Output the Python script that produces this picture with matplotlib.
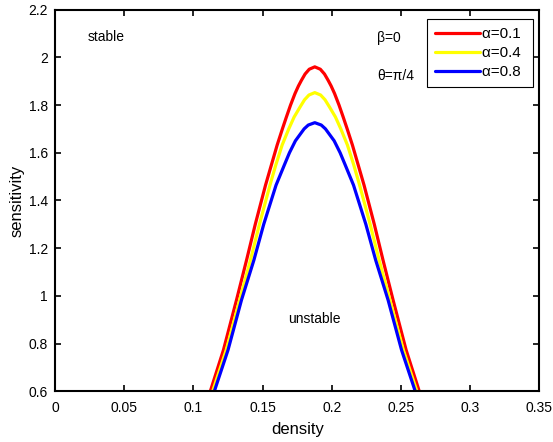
import matplotlib
matplotlib.use("Agg")
import matplotlib.pyplot as plt

plt.rcParams['font.family'] = ['Liberation Sans', 'DejaVu Sans']

# values (left flank, peak, right flank)
red_x = [0.1122, 0.1217, 0.1311, 0.1384, 0.1447, 0.1521, 0.1564, 0.1605, 0.1643,
         0.1672, 0.1702, 0.1734, 0.1759, 0.1781, 0.1807, 0.1837, 0.1877,
         0.1917, 0.1947, 0.1973, 0.1995, 0.2020, 0.2052, 0.2082, 0.2111,
         0.2149, 0.2190, 0.2233, 0.2307, 0.2370, 0.2443, 0.2537, 0.2632]
red_y = [0.600, 0.773, 0.982, 1.150, 1.300, 1.464, 1.550, 1.632, 1.700,
         1.750, 1.800, 1.848, 1.880, 1.904, 1.930, 1.950, 1.960,
         1.950, 1.930, 1.904, 1.880, 1.848, 1.800, 1.750, 1.700,
         1.632, 1.550, 1.464, 1.300, 1.150, 0.982, 0.773, 0.600]

yellow_x = [0.1139, 0.1237, 0.1334, 0.1412, 0.1477, 0.1553, 0.1596, 0.1641, 0.1689,
            0.1728, 0.1771, 0.1803, 0.1835, 0.1877,
            0.1919, 0.1951, 0.1983, 0.2026, 0.2065, 0.2113, 0.2158, 0.2201,
            0.2277, 0.2342, 0.2420, 0.2517, 0.2615]
yellow_y = [0.600, 0.773, 0.982, 1.150, 1.300, 1.464, 1.550, 1.632, 1.700,
            1.750, 1.792, 1.822, 1.842, 1.852,
            1.842, 1.822, 1.792, 1.750, 1.700, 1.632, 1.550, 1.464,
            1.300, 1.150, 0.982, 0.773, 0.600]

blue_x = [0.1151, 0.1250, 0.1347, 0.1437, 0.1508, 0.1597, 0.1658, 0.1694, 0.1737,
          0.1776, 0.1800, 0.1830, 0.1877,
          0.1924, 0.1954, 0.1978, 0.2017, 0.2060, 0.2096, 0.2157,
          0.2246, 0.2317, 0.2407, 0.2504, 0.2603]
blue_y = [0.600, 0.773, 0.982, 1.150, 1.300, 1.464, 1.550, 1.600, 1.650,
          1.681, 1.700, 1.716, 1.726,
          1.716, 1.700, 1.681, 1.650, 1.600, 1.550, 1.464,
          1.300, 1.150, 0.982, 0.773, 0.600]

x_ticks = [0, 0.05, 0.1, 0.15, 0.2, 0.25, 0.3, 0.35]
x_labels = ['0', '0.05', '0.1', '0.15', '0.2', '0.25', '0.3', '0.35']
y_ticks = [0.6, 0.8, 1.0, 1.2, 1.4, 1.6, 1.8, 2.0, 2.2]
y_labels = ['0.6', '0.8', '1', '1.2', '1.4', '1.6', '1.8', '2', '2.2']

fig = plt.figure(figsize=(5.53, 4.42), dpi=100)
ax = fig.add_axes([0.0995, 0.1147, 0.8759, 0.8636])

style = dict(lw=2.3, solid_joinstyle='round', solid_capstyle='round')
ax.plot(red_x, red_y, color='#ff0000', label='α=0.1 ', **style)
ax.plot(yellow_x, yellow_y, color='#ffff00', label='α=0.4 ', **style)
ax.plot(blue_x, blue_y, color='#0000ff', label='α=0.8 ', **style)

ax.set_xlim(0, 0.35)
ax.set_ylim(0.6, 2.2)
ax.set_xticks(x_ticks)
ax.set_xticklabels(x_labels)
ax.set_yticks(y_ticks)
ax.set_yticklabels(y_labels)
ax.tick_params(direction='in', length=4, width=1.2, top=True, right=True,
               labelsize=10, pad=5)
ax.tick_params(axis='x', pad=7)
for s in ax.spines.values():
    s.set_linewidth(1.5)

ax.set_xlabel('density', fontsize=12, labelpad=5)
ax.set_ylabel('sensitivity', fontsize=12, labelpad=3)

ax.text(0.0236, 2.084, 'stable', fontsize=10, va='center')
ax.text(0.2327, 2.083, 'β=0', fontsize=10, va='center')
ax.text(0.2327, 1.921, 'θ=π/4', fontsize=10, va='center')
ax.text(0.1681, 0.902, 'unstable', fontsize=10, va='center')

leg = ax.legend(loc='upper right', bbox_to_anchor=(0.986, 0.9746), borderaxespad=0,
                fontsize=11, fancybox=False, framealpha=1, edgecolor='black',
                handlelength=3.0, handletextpad=0.1, labelspacing=0.33,
                borderpad=0.5)
leg.get_frame().set_linewidth(0.8)

fig.savefig('out.png', dpi=100)
